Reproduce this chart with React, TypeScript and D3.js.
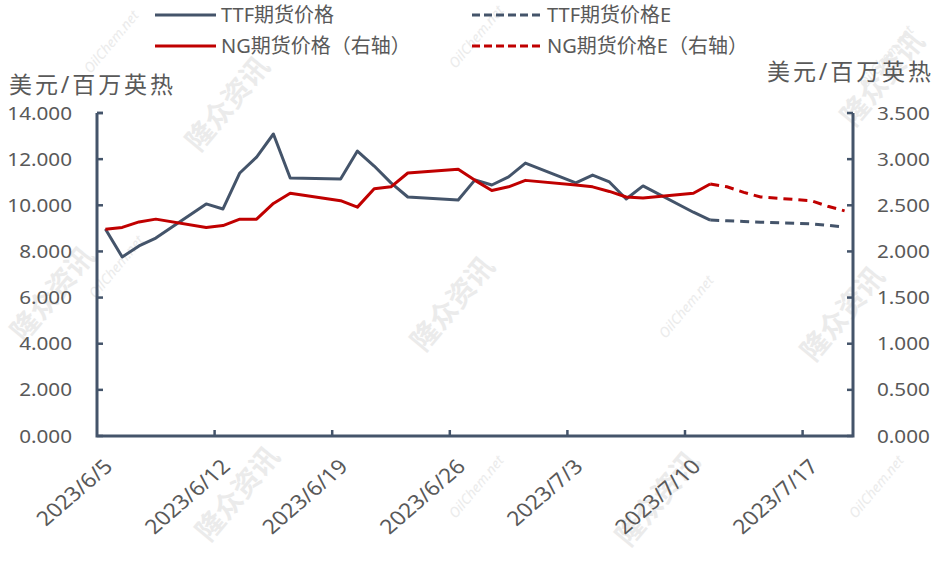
import * as d3 from "d3"

// 实际值（右轴为NG）
const dates = [
  "2023-06-05", "2023-06-06", "2023-06-07", "2023-06-08", "2023-06-11",
  "2023-06-12", "2023-06-13", "2023-06-14", "2023-06-15", "2023-06-16",
  "2023-06-19", "2023-06-20", "2023-06-21", "2023-06-22", "2023-06-23",
  "2023-06-26", "2023-06-27", "2023-06-28", "2023-06-29", "2023-06-30",
  "2023-07-03", "2023-07-04", "2023-07-05", "2023-07-06", "2023-07-07",
  "2023-07-10", "2023-07-11",
]
const ttf = [
  8.97, 7.76, 8.24, 8.58, 10.06,
  9.84, 11.4, 12.09, 13.09, 11.18,
  11.14, 12.35, 11.7, 10.97, 10.36,
  10.23, 11.1, 10.88, 11.23, 11.83,
  10.97, 11.31, 11.01, 10.27, 10.84,
  9.7, 9.36,
]
const ng = [
  2.24, 2.26, 2.32, 2.35, 2.26,
  2.28, 2.35, 2.35, 2.52, 2.63,
  2.55, 2.48, 2.68, 2.7, 2.85,
  2.89, 2.77, 2.66, 2.7, 2.77,
  2.72, 2.7, 2.65, 2.59, 2.58,
  2.63, 2.73,
]

// 预测值 E
const estDates = ["2023-07-11", "2023-07-12", "2023-07-13", "2023-07-14", "2023-07-17", "2023-07-18", "2023-07-19"]
const ttfEst = [9.36, 9.33, 9.3, 9.27, 9.2, 9.13, 9.06]
const ngEst = [2.73, 2.7, 2.64, 2.59, 2.55, 2.49, 2.44]

const leftTicks = [0, 2, 4, 6, 8, 10, 12, 14]
const rightTicks = [0, 0.5, 1, 1.5, 2, 2.5, 3, 3.5]
const xTickDates = ["2023-06-05", "2023-06-12", "2023-06-19", "2023-06-26", "2023-07-03", "2023-07-10", "2023-07-17"]

const BLUE = "#44546A"
const RED = "#C00000"
const TEXT = "#595959"
const FONT = "'Noto Sans', 'Noto Sans CJK SC', sans-serif"

const parse = d3.timeParse("%Y-%m-%d")
// 点位于当天中间
const mid = (s: string) => d3.timeHour.offset(parse(s) as Date, 12)

export default function App() {
  const width = 940
  const height = 563
  const left = 97
  const right = 853
  const top = 113
  const bottom = 436

  const x = d3.scaleTime().domain([parse("2023-06-05") as Date, parse("2023-07-20") as Date]).range([left, right])
  const yL = d3.scaleLinear().domain([0, 14]).range([bottom, top])
  const yR = d3.scaleLinear().domain([0, 3.5]).range([bottom, top])

  const lineL = d3.line<[string, number]>().x((d) => x(mid(d[0]))).y((d) => yL(d[1]))
  const lineR = d3.line<[string, number]>().x((d) => x(mid(d[0]))).y((d) => yR(d[1]))

  const zip = (ds: string[], vs: number[]) => ds.map((d, i) => [d, vs[i]] as [string, number])
  const fmt = d3.format(".3f")

  const marks = [
    { t: "隆众资讯", x: 235, y: 110, s: 28 },
    { t: "隆众资讯", x: 460, y: 310, s: 28 },
    { t: "隆众资讯", x: 245, y: 500, s: 28 },
    { t: "隆众资讯", x: 665, y: 505, s: 28 },
    { t: "隆众资讯", x: 850, y: 320, s: 28 },
    { t: "隆众资讯", x: 890, y: 85, s: 28 },
    { t: "隆众资讯", x: 60, y: 300, s: 28 },
    { t: "OilChem.net", x: 115, y: 45, s: 14 },
    { t: "OilChem.net", x: 480, y: 40, s: 14 },
    { t: "OilChem.net", x: 690, y: 310, s: 14 },
    { t: "OilChem.net", x: 480, y: 490, s: 14 },
    { t: "OilChem.net", x: 880, y: 490, s: 14 },
    { t: "OilChem.net", x: 890, y: 60, s: 14 },
    { t: "OilChem.net", x: 120, y: 270, s: 14 },
  ]

  return (
    <svg width={width} height={height} style={{ position: "absolute", left: 0, top: 0, background: "#fff" }} fontFamily={FONT}>
      {/* 水印 */}
      {marks.map((m, i) => (
        <text
          key={i}
          transform={`translate(${m.x},${m.y}) rotate(-50)`}
          textAnchor="middle"
          fontSize={m.s}
          fontWeight={m.s > 20 ? 700 : 400}
          fontStyle={m.s > 20 ? "normal" : "italic"}
          fill="#ebebeb"
        >
          {m.t}
        </text>
      ))}

      {/* 图例 */}
      <g fontSize={20} fill={TEXT}>
        <line x1={155} x2={216} y1={15} y2={15} stroke={BLUE} strokeWidth={3} />
        <text x={221} y={22}>TTF期货价格</text>
        <line x1={472} x2={542} y1={15} y2={15} stroke={BLUE} strokeWidth={3} strokeDasharray="8,4" />
        <text x={547} y={22}>TTF期货价格E</text>
        <line x1={155} x2={216} y1={46} y2={46} stroke={RED} strokeWidth={3} />
        <text x={221} y={53}>NG期货价格（右轴）</text>
        <line x1={472} x2={542} y1={46} y2={46} stroke={RED} strokeWidth={3} strokeDasharray="8,4" />
        <text x={547} y={53}>NG期货价格E（右轴）</text>
      </g>

      {/* 轴标题 */}
      <text x={9} y={93} fontSize={23} fill={TEXT} textLength={164} lengthAdjust="spacing">美元/百万英热</text>
      <text x={767} y={80} fontSize={23} fill={TEXT} textLength={164} lengthAdjust="spacing">美元/百万英热</text>

      {/* 左轴 */}
      {leftTicks.map((t) => (
        <g key={"l" + t}>
          <line x1={left} x2={left + 6} y1={yL(t)} y2={yL(t)} stroke={BLUE} strokeWidth={2.5} />
          <text transform={`translate(72,${yL(t) + 6.5}) scale(1.15,1)`} textAnchor="end" fontSize={18} fill={TEXT}>
            {fmt(t)}
          </text>
        </g>
      ))}
      {/* 右轴 */}
      {rightTicks.map((t) => (
        <g key={"r" + t}>
          <line x1={right - 6} x2={right} y1={yR(t)} y2={yR(t)} stroke={BLUE} strokeWidth={2.5} />
          <text transform={`translate(877,${yR(t) + 6.5}) scale(1.15,1)`} fontSize={18} fill={TEXT}>
            {fmt(t)}
          </text>
        </g>
      ))}
      {/* X轴 */}
      {xTickDates.map((d) => {
        const px = x(parse(d) as Date)
        const dt = parse(d) as Date
        const label = `${dt.getFullYear()}/${dt.getMonth() + 1}/${dt.getDate()}`
        return (
          <g key={d}>
            {d !== "2023-06-05" && <line x1={px} x2={px} y1={bottom} y2={bottom - 6} stroke={BLUE} strokeWidth={2.5} />}
            <text transform={`translate(${px + 17},${468}) scale(1.15,1) rotate(-45)`} textAnchor="end" fontSize={20} fill={TEXT}>
              {label}
            </text>
          </g>
        )
      })}
      <path
        d={`M${left},${top}V${bottom}H${right}V${top}`}
        fill="none"
        stroke={BLUE}
        strokeWidth={3}
      />
      <line x1={left} x2={left + 6} y1={top} y2={top} stroke={BLUE} strokeWidth={2.5} />

      {/* 数据线 */}
      <path d={lineL(zip(dates, ttf)) || ""} fill="none" stroke={BLUE} strokeWidth={3} strokeLinejoin="round" />
      <path d={lineR(zip(dates, ng)) || ""} fill="none" stroke={RED} strokeWidth={3} strokeLinejoin="round" />
      <path d={lineL(zip(estDates, ttfEst)) || ""} fill="none" stroke={BLUE} strokeWidth={3} strokeDasharray="9,6" />
      <path d={lineR(zip(estDates, ngEst)) || ""} fill="none" stroke={RED} strokeWidth={3} strokeDasharray="9,6" />
    </svg>
  )
}
